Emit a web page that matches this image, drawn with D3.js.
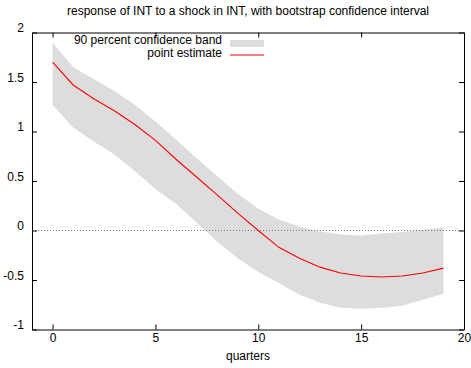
<!DOCTYPE html>
<html lang="en">

<head>
    <script src="https://cdnjs.cloudflare.com/ajax/libs/d3/7.8.5/d3.min.js"></script>
    <style>
        body { margin: 0; background: #fff; }
        text { font-family: "Liberation Sans", Arial, sans-serif; font-size: 12px; fill: #000; }
    </style>
</head>

<body>
    <script>
        var w = 471;
        var h = 368;

        // quarters after the shock
        var quarters = [0, 1, 2, 3, 4, 5, 6, 7, 8, 9, 10, 11, 12, 13, 14, 15, 16, 17, 18, 19];
        // point estimate of the response
        var estimate = [1.70, 1.47, 1.33, 1.21, 1.07, 0.91, 0.72, 0.54, 0.36, 0.175, 0.0, -0.17, -0.28, -0.37, -0.43, -0.46, -0.47, -0.46, -0.43, -0.38];
        // 90 percent bootstrap band
        var upper = [1.90, 1.65, 1.53, 1.41, 1.27, 1.10, 0.92, 0.73, 0.55, 0.37, 0.22, 0.11, 0.04, -0.01, -0.04, -0.05, -0.03, -0.015, 0.01, 0.03];
        var lower = [1.27, 1.04, 0.90, 0.77, 0.60, 0.42, 0.27, 0.08, -0.11, -0.28, -0.42, -0.53, -0.65, -0.73, -0.78, -0.79, -0.78, -0.76, -0.70, -0.64];

        var xTicks = [0, 5, 10, 15, 20];
        var yTicks = [-1, -0.5, 0, 0.5, 1, 1.5, 2];

        // plot frame (window.top is taken, so prefix these)
        var plotL = 32, plotR = 464, plotT = 32.5, plotB = 329.5;

        var x = d3.scaleLinear().domain([-1, 20]).range([plotL, plotR]);
        var y = d3.scaleLinear().domain([-1, 2]).range([plotB, plotT]);

        var svg = d3.select("body").append("svg")
            .attr("width", w)
            .attr("height", h);

        var rows = quarters.map((q, i) => ({ q: q, est: estimate[i], lo: lower[i], hi: upper[i] }));

        // confidence band
        svg.append("path")
            .datum(rows)
            .attr("fill", "#dddddd")
            .attr("d", d3.area().x(d => x(d.q)).y0(d => y(d.lo)).y1(d => y(d.hi)));

        // zero line
        svg.append("line")
            .attr("x1", plotL).attr("x2", plotR)
            .attr("y1", y(0)).attr("y2", y(0))
            .attr("stroke", "#777")
            .attr("stroke-width", 1)
            .attr("stroke-dasharray", "1,2");

        // point estimate
        svg.append("path")
            .datum(rows)
            .attr("fill", "none")
            .attr("stroke", "#ff0000")
            .attr("stroke-width", 1.1)
            .attr("d", d3.line().x(d => x(d.q)).y(d => y(d.est)));

        // plain labels like gnuplot: "2", "-0.5"
        var fmt = d => String(d);

        // axes, gnuplot style with inward ticks on all four sides
        var gx = svg.append("g")
            .attr("transform", "translate(0," + plotB + ")")
            .call(d3.axisBottom(x).tickValues(xTicks).tickFormat(fmt).tickSize(-5).tickPadding(4).tickSizeOuter(0));
        svg.append("g")
            .attr("transform", "translate(0," + plotT + ")")
            .call(d3.axisTop(x).tickValues(xTicks).tickSize(-5).tickFormat("").tickSizeOuter(0));
        var gy = svg.append("g")
            .attr("transform", "translate(" + plotL + ",0)")
            .call(d3.axisLeft(y).tickValues(yTicks).tickFormat(fmt).tickSize(-5).tickPadding(8).tickSizeOuter(0));
        svg.append("g")
            .attr("transform", "translate(" + plotR + ",0)")
            .call(d3.axisRight(y).tickValues(yTicks).tickSize(-5).tickFormat("").tickSizeOuter(0));

        svg.selectAll(".domain").attr("stroke", "#000");
        svg.selectAll(".tick line").attr("stroke", "#000");
        svg.selectAll("g").attr("font-family", null).attr("font-size", null);
        gy.selectAll(".tick text").attr("dy", "-0.05em");

        // title and x label
        svg.append("text")
            .attr("x", 248).attr("y", 15)
            .attr("text-anchor", "middle")
            .text("response of INT to a shock in INT, with bootstrap confidence interval");

        svg.append("text")
            .attr("x", 248).attr("y", 360)
            .attr("text-anchor", "middle")
            .text("quarters");

        // legend
        svg.append("text")
            .attr("x", 222).attr("y", 44)
            .attr("text-anchor", "end")
            .text("90 percent confidence band");
        svg.append("rect")
            .attr("x", 230).attr("y", 40)
            .attr("width", 34).attr("height", 7)
            .attr("fill", "#dddddd");

        svg.append("text")
            .attr("x", 222).attr("y", 57)
            .attr("text-anchor", "end")
            .text("point estimate");
        svg.append("line")
            .attr("x1", 230).attr("x2", 264)
            .attr("y1", 55).attr("y2", 55)
            .attr("stroke", "#ff0000")
            .attr("stroke-width", 1);
    </script>
</body>

</html>
